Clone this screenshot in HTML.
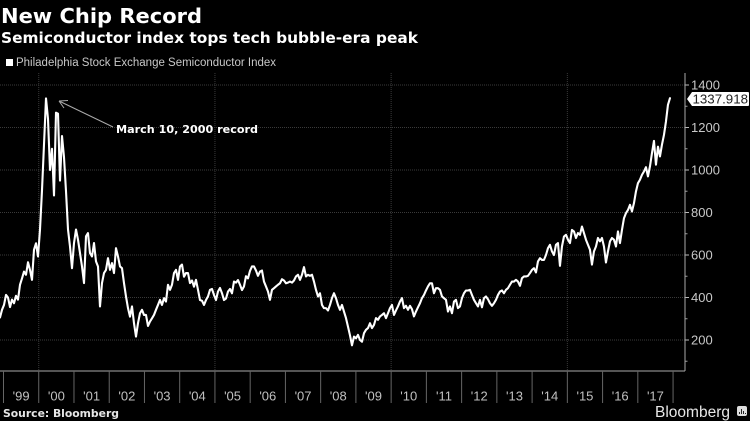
<!DOCTYPE html>
<html lang="en">
<head>
<meta charset="utf-8">
<title>New Chip Record</title>
<style>
html,body{margin:0;padding:0;background:#000;width:750px;height:421px;overflow:hidden}
svg{display:block;filter:blur(0.3px)}
text{white-space:pre}
</style>
</head>
<body>
<svg id="chart" xmlns="http://www.w3.org/2000/svg" width="750" height="421" viewBox="0 0 750 421">
  <rect x="0" y="0" width="750" height="421" fill="#000"/>
  <text x="1" y="23" fill="#fff" font-family="'DejaVu Sans',sans-serif" font-weight="700" font-size="20" textLength="201" lengthAdjust="spacingAndGlyphs">New Chip Record</text>
  <text x="1" y="43" fill="#fff" font-family="'DejaVu Sans',sans-serif" font-weight="700" font-size="15" textLength="417" lengthAdjust="spacingAndGlyphs">Semiconductor index tops tech bubble-era peak</text>
  <rect x="6" y="59" width="7" height="7" fill="#fff"/>
  <text x="16" y="66" fill="#c8c8c8" font-family="'Liberation Sans',sans-serif" font-size="11.5" textLength="260" lengthAdjust="spacingAndGlyphs">Philadelphia Stock Exchange Semiconductor Index</text>
  <g id="grid"></g>
  <g id="axes"></g>
  <path id="series" fill="none" stroke="#fff" stroke-width="2.1" stroke-linejoin="round" stroke-linecap="round"/>
  <g>
    <path d="M113 127 L59 101 M59 101 L68 100.5 M59 101 L64 108" fill="none" stroke="#aaa" stroke-width="1"/>
    <text x="116" y="133" fill="#fff" font-family="'DejaVu Sans',sans-serif" font-weight="700" font-size="10.5" textLength="142" lengthAdjust="spacingAndGlyphs">March 10, 2000 record</text>
  </g>
  <g id="tag"></g>
  <text x="3" y="417" fill="#e6e6e6" font-family="'DejaVu Sans',sans-serif" font-weight="700" font-size="10.5" textLength="116" lengthAdjust="spacingAndGlyphs">Source: Bloomberg</text>
  <text x="655" y="417" fill="#e8e8e8" font-family="'Liberation Sans',sans-serif" font-size="15.5" textLength="75" lengthAdjust="spacingAndGlyphs">Bloomberg</text>
  <g>
    <rect x="737" y="406" width="10" height="10" rx="2" fill="#ddd"/>
    <path d="M739 414v-2h1v2zM741 414v-5h1v5zM743 414v-3h1v3zM745 414v-1h1v1z" fill="#222"/>
  </g>
</svg>
<script>
// Sampled index closes, one value per reporting interval from late 1998
const seriesStartYear = 1998.9007;
const seriesStepYears = 0.05675;
const indexValues = [
306,342,365,412,400,355,390,373,408,390,460,490,522,507,566,530,483,625,655,593,
720,905,1120,1337,1240,1000,1100,880,1270,1265,950,1160,1060,900,720,640,538,656,720,672,
609,546,468,688,703,609,593,656,570,546,358,468,515,530,585,530,562,515,632,593,
546,538,468,405,350,310,358,279,216,279,326,342,318,318,266,287,302,318,342,365,
389,365,397,381,460,436,460,515,530,483,546,555,498,515,515,468,480,451,483,436,
388,385,365,388,405,436,440,412,388,428,445,420,388,395,428,440,420,475,470,482,
460,435,452,500,490,525,546,546,527,502,522,527,475,452,428,389,436,444,452,460,
467,486,480,467,470,475,470,480,499,507,483,507,543,499,507,502,507,475,436,405,
420,365,350,350,339,365,397,420,397,365,342,365,334,303,263,222,175,216,208,224,
200,192,232,248,256,279,256,271,303,295,311,318,326,303,326,350,365,318,339,358,
381,397,350,361,342,361,345,311,334,354,373,397,412,433,452,467,467,420,444,444,
436,405,397,389,334,358,326,381,389,350,358,397,420,433,433,436,412,389,373,358,
389,354,397,405,392,373,361,373,389,412,428,433,420,436,444,460,475,475,483,475,
455,491,499,499,502,515,530,538,518,570,585,577,577,600,632,648,617,600,648,656,
549,640,687,695,672,656,718,711,680,703,695,734,703,672,648,625,555,617,640,680,
664,680,640,565,617,664,680,672,640,711,656,718,773,797,812,836,805,844,899,938,
954,977,993,1013,970,1017,1079,1137,1025,1110,1064,1119,1165,1228,1307,1337.918
];
// Axis labels
const yTickLabels = [200,400,600,800,1000,1200,1400];
const yMinorTicks = [100,300,500,700,900,1100,1300];
const xYears = [1999,2000,2001,2002,2003,2004,2005,2006,2007,2008,2009,2010,2011,2012,2013,2014,2015,2016,2017];
const xYearLabels = ["'99","'00","'01","'02","'03","'04","'05","'06","'07","'08","'09","'10","'11","'12","'13","'14","'15","'16","'17"];
const xGridYears = [2000,2005,2010,2015];

const NS = 'http://www.w3.org/2000/svg';
const xScale = function (year) { return 3.5 + (year - 1999) * 35.24; };
const yScale = function (v) { return 340 - (v - 200) * 0.2125; };
const AXIS_X = 685, AXIS_Y = 371, TOP_Y = 73;

function make(tag, parent, props, text) {
  const el = document.createElementNS(NS, tag);
  for (const k in props) el.setAttribute(k, props[k]);
  if (text !== undefined) el.textContent = text;
  parent.appendChild(el);
  return el;
}

const grid = document.getElementById('grid');
const axes = document.getElementById('axes');

yTickLabels.forEach(function (v) {
  const y = yScale(v);
  const line = make('line', grid, {x1: 0, x2: AXIS_X, y1: y, y2: y, stroke: '#3a3a3a', 'stroke-width': 1, 'stroke-dasharray': '1 1'});
  
  
  const tick = make('line', axes, {x1: AXIS_X, x2: AXIS_X + 4, y1: y, y2: y, stroke: '#bbb', 'stroke-width': 1});
  
  
  const label = make('text', axes, {x: 691, y: y + 4.5, fill: '#c8c8c8', 'font-family': "'Liberation Sans',sans-serif", 'font-size': 13}, String(v));
  
  
});

yMinorTicks.forEach(function (v) {
  const y = yScale(v);
  const tick = make('line', axes, {x1: AXIS_X, x2: AXIS_X + 2.5, y1: y, y2: y, stroke: '#999', 'stroke-width': 1});
  
  
});

xGridYears.forEach(function (yr) {
  const x = xScale(yr);
  const line = make('line', grid, {x1: x, x2: x, y1: TOP_Y, y2: AXIS_Y, stroke: '#3a3a3a', 'stroke-width': 1, 'stroke-dasharray': '1 1'});
  
  
});

const yAxis = make('line', axes, {x1: AXIS_X, x2: AXIS_X, y1: TOP_Y, y2: AXIS_Y, stroke: '#aaa', 'stroke-width': 1});


const xAxis = make('line', axes, {x1: 0, x2: AXIS_X, y1: AXIS_Y, y2: AXIS_Y, stroke: '#aaa', 'stroke-width': 1});



xYears.concat([xYears[xYears.length - 1] + 1]).forEach(function (yr) {
  const x = xScale(yr);
  const tick = make('line', axes, {x1: x, x2: x, y1: AXIS_Y, y2: 403, stroke: '#666', 'stroke-width': 1});
  
  
});

xYearLabels.forEach(function (lbl, i) {
  const x = xScale(xYears[i] + 0.5);
  const label = make('text', axes, {x: x, y: 400.5, fill: '#c0c0c0', 'text-anchor': 'middle', 'font-family': "'Liberation Sans',sans-serif", 'font-size': 13}, lbl);
  
  
});

let d = '';
indexValues.forEach(function (v, i) {
  const yr = seriesStartYear + i * seriesStepYears;
  d += (i ? 'L' : 'M') + xScale(yr).toFixed(2) + ' ' + yScale(v).toFixed(2);
});
document.getElementById('series').setAttribute('d', d);

const lastValue = indexValues[indexValues.length - 1];
const tagY = yScale(lastValue) + 0.8;
const tagGroup = document.getElementById('tag');
const tagShape = make('path', tagGroup, {d: 'M687 ' + tagY + 'L692 ' + (tagY - 7) + 'H748a1 1 0 0 1 1 1V' + (tagY + 6) + 'a1 1 0 0 1 -1 1H692Z', fill: '#fff'});


const tagText = make('text', tagGroup, {x: 692.5, y: tagY + 4.6, fill: '#222', 'font-family': "'Liberation Sans',sans-serif", 'font-size': 13, textLength: 55.5, lengthAdjust: 'spacingAndGlyphs'}, lastValue.toFixed(3));


</script>
</body>
</html>
